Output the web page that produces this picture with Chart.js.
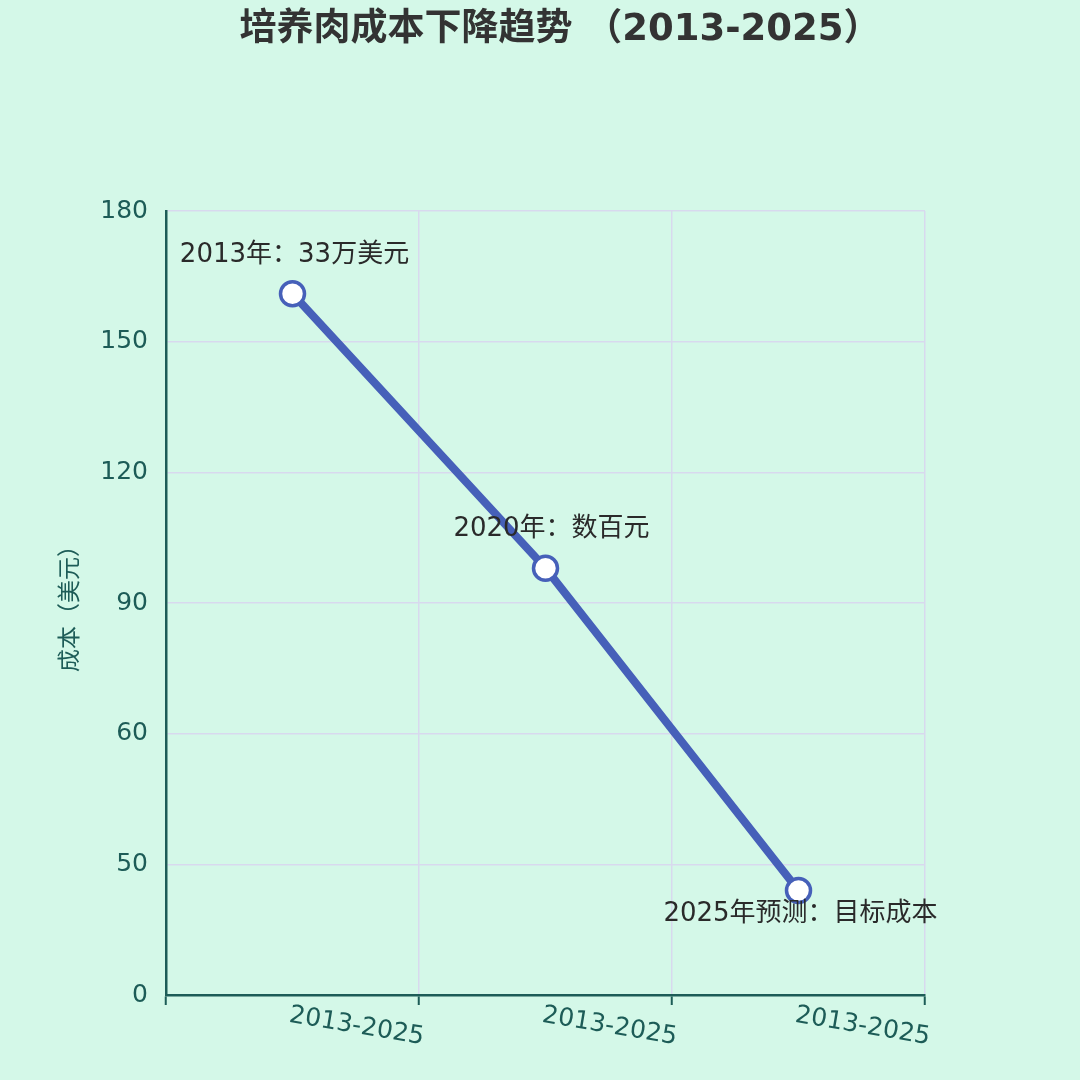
<!DOCTYPE html>
<html lang="zh">
<head>
<meta charset="utf-8">
<title>培养肉成本下降趋势</title>
<script src="https://cdn.jsdelivr.net/npm/chart.js@4.4.1/dist/chart.umd.min.js"></script>
<style>
  html, body { margin: 0; padding: 0; background: #d4f8e8; }
  #wrap { width: 1080px; height: 1080px; }
</style>
</head>
<body>
<div id="wrap"><canvas id="costChart" width="1080" height="1080"></canvas></div>
<script>
// ===== data =====
const chartTitle = "培养肉成本下降趋势 （2013-2025）";
const categories = ["2013-2025", "2013-2025", "2013-2025"];
const costValues = [161, 98, 24];
const pointNotes = ["2013年：33万美元", "2020年：数百元", "2025年预测：目标成本"];
const yTickValues = [0, 30, 60, 90, 120, 150, 180];
const yTickLabels = ["0", "50", "60", "90", "120", "150", "180"];

const TEAL = "#1d5c57";
const BLUE = "#4660b9";
const GRID = "#d8d9ee";
const BG = "#d4f8e8";
const MIXED = "'DejaVu Sans', 'Noto Sans CJK SC', sans-serif";

// mint background + title across the whole canvas
const bgPlugin = {
  id: "bg",
  beforeDraw(chart) {
    const ctx = chart.ctx;
    ctx.save();
    ctx.fillStyle = BG;
    ctx.fillRect(0, 0, chart.width, chart.height);
    ctx.font = "bold 37px " + MIXED;
    ctx.fillStyle = "#333333";
    ctx.textAlign = "center";
    ctx.textBaseline = "middle";
    ctx.fillText(chartTitle, 560, 30);
    ctx.restore();
  }
};

// text notes next to each point
const notesPlugin = {
  id: "notes",
  afterDatasetsDraw(chart) {
    const ctx = chart.ctx;
    const pts = chart.getDatasetMeta(0).data;
    ctx.save();
    ctx.font = "26px " + MIXED;
    ctx.fillStyle = "#2a2a2a";
    ctx.textAlign = "center";
    ctx.textBaseline = "middle";
    pts.forEach((p, i) => {
      const last = i === pts.length - 1;
      const dx = i === 1 ? 6 : 2;
      const dy = last ? 24 : -39;
      ctx.fillText(pointNotes[i], p.x + dx, p.y + dy);
    });
    ctx.restore();
  }
};

// tilted category labels under the x axis
const xLabelPlugin = {
  id: "xlabels",
  afterDraw(chart) {
    const ctx = chart.ctx;
    const x = chart.scales.x;
    ctx.save();
    ctx.font = "25px 'DejaVu Sans', sans-serif";
    ctx.fillStyle = TEAL;
    ctx.textAlign = "left";
    ctx.textBaseline = "top";
    categories.forEach((lab, i) => {
      const px = x.getPixelForValue(i);
      ctx.save();
      ctx.translate(px - 1, chart.chartArea.bottom + 8);
      ctx.rotate(9.5 * Math.PI / 180);
      ctx.fillText(lab, 0, 0);
      ctx.restore();
    });
    ctx.restore();
  }
};

const ctx = document.getElementById("costChart").getContext("2d");
new Chart(ctx, {
  type: "line",
  data: {
    labels: categories,
    datasets: [{
      data: costValues,
      borderColor: BLUE,
      borderWidth: 8,
      pointRadius: 12,
      pointBorderWidth: 3.5,
      pointBackgroundColor: "#ffffff",
      pointBorderColor: BLUE,
      tension: 0,
      clip: false
    }]
  },
  options: {
    responsive: false,
    animation: false,
    layout: { padding: { top: 211, left: 0, right: 155, bottom: 0 } },
    plugins: {
      legend: { display: false },
      tooltip: { enabled: false },
      title: { display: false }
    },
    scales: {
      x: {
        offset: true,
        grid: { offset: true, color: GRID, lineWidth: 1.5, drawTicks: true, tickLength: 10, tickColor: TEAL, tickWidth: 2 },
        border: { color: TEAL, width: 2.5 },
        ticks: { display: false },
        afterFit(scale) { scale.height = 85; }
      },
      y: {
        min: 0,
        max: 180,
        afterBuildTicks(scale) {
          scale.ticks = yTickValues.map(v => ({ value: v }));
        },
        ticks: {
          color: TEAL,
          padding: 18,
          font: { family: "'DejaVu Sans', sans-serif", size: 25 },
          callback: (v) => yTickLabels[yTickValues.indexOf(v)]
        },
        grid: { color: GRID, lineWidth: 1.5, drawTicks: false },
        border: { color: TEAL, width: 2.5 },
        title: {
          display: true,
          text: "成本（美元）",
          color: TEAL,
          font: { family: "'Noto Sans CJK SC', sans-serif", size: 23 },
          padding: { top: 54, bottom: 0 }
        },
        afterFit(scale) { scale.width = 166; }
      }
    }
  },
  plugins: [bgPlugin, notesPlugin, xLabelPlugin]
});
</script>
</body>
</html>
